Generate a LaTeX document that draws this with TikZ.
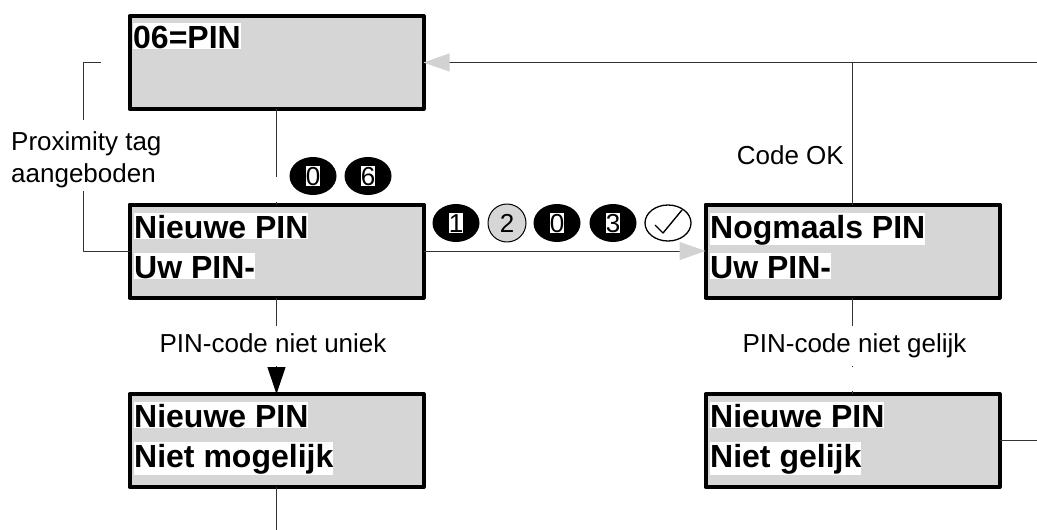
\documentclass[tikz,border=0pt]{standalone}
\usepackage{fontspec}
\setmainfont{Liberation Sans}
\usetikzlibrary{arrows.meta, shapes.geometric}

\begin{document}
\begin{tikzpicture}[x=1pt, y=-1pt, line join=round,
    lcdbox/.style={draw=black, fill=lcdgray, line width=4pt, minimum width=294pt, minimum height=93pt, inner sep=0pt, outer sep=0pt},
    lcdline/.style={fill=white, inner sep=0pt, anchor=north west, font=\fontsize{32}{32}\selectfont\bfseries, text height=25pt, text depth=#1},
    lcdline/.default=1pt,
    flow/.style={draw=black!80, line width=1pt},
    grayhead/.style={flow, -{Triangle[length=26pt, width=18pt, color=arrowgray]}},
    blackhead/.style={flow, -{Triangle[length=27pt, width=18pt, color=black]}},
    note/.style={inner sep=0pt, font=\fontsize{26}{32}\selectfont},
    notegap/.style={note, text height=19pt, text depth=6pt, minimum height=40pt},
    keydark/.style={ellipse, fill=black, minimum width=47pt, minimum height=38pt, inner sep=0pt, label={[keydigit]center:#1}},
    keydigit/.style={fill=white, text=black, inner sep=0pt, font=\fontsize{26}{26}\selectfont, text height=19.5pt, text depth=1pt}]
    \definecolor{lcdgray}{HTML}{D6D6D6}
    \definecolor{arrowgray}{HTML}{D2D2D2}
    \useasboundingbox (0,0) rectangle (1037,530);

    % Displays, left column
    \node[lcdbox] (pinbox) at (276.5,62.5) {};
    \node[lcdbox] (newpin) at (276.5,251) {};
    \node[lcdbox] (notunique) at (276.5,440.5) {};

    % Displays, right column
    \node[lcdbox] (repeatpin) at (852.5,251) {};
    \node[lcdbox] (notequal) at (852.5,440.5) {};

    % Display texts
    \node[lcdline] (pintext) at (133,23) {06=PIN};
    \node[lcdline] (newtexta) at (134,213) {Nieuwe PIN};
    \node[lcdline] (newtextb) at (134,253) {Uw PIN-};
    \node[lcdline] (uniquea) at (134,402) {Nieuwe PIN};
    \node[lcdline=8pt] (uniqueb) at (134,442) {Niet mogelijk};
    \node[lcdline=7pt] (repeata) at (710,213) {Nogmaals PIN};
    \node[lcdline] (repeatb) at (710,253) {Uw PIN-};
    \node[lcdline] (equala) at (710,402) {Nieuwe PIN};
    \node[lcdline=8pt] (equalb) at (710,442) {Niet gelijk};

    % Labels
    \node[note, align=left, anchor=north west, minimum height=71pt] (proxlabel) at (11,124) {Proximity tag\\aangeboden};
    \node[note, anchor=east] (oklabel) at (844,155) {Code OK};
    \node[notegap] (uniquelabel) at (273,346) {PIN-code niet uniek};
    \node[notegap] (equallabel) at (854.5,346) {PIN-code niet gelijk};

    % Keys
    \foreach \x/\d in {313/0, 368/6}
        \node[keydark=\d] (keytop\x) at (\x,176) {};
    \foreach \x/\d in {456/1, 557/0, 613/3}
        \node[keydark=\d] (keyrow\x) at (\x,223) {};
    \node[ellipse, draw=black, fill=lcdgray, line width=1pt, minimum size=38pt, inner sep=0pt, font=\fontsize{26}{26}\selectfont] (keytwo) at (507,223) {2};
    \node[ellipse, draw=black, line width=1.3pt, minimum width=46pt, minimum height=36pt, inner sep=0pt] (keyok) at (668,223) {};
    \draw[line width=1.4pt] ([shift={(-13,2)}]keyok.center) -- ([shift={(-5,10)}]keyok.center) -- ([shift={(14,-13)}]keyok.center);

    % Free ends of the connectors
    \coordinate (rightend) at (1037,62.5);
    \coordinate (rightlow) at (1037,440.5);
    \coordinate (bottomend) at (276.5,530);
    \coordinate (junction) at (852.5,62.5);
    \coordinate (proxlow) at (83,191);
    \coordinate (proxup) at (83,120);
    \coordinate (proxtop) at (101,62);
    \coordinate (keysgap) at (276.5,177);
    \coordinate (equalgap) at (852.5,366);

    % Connectors
    \draw[grayhead] (rightend) -- (pinbox.east);
    \draw[flow] (repeatpin.north) -- (junction);
    \draw[grayhead] (newpin.east) -- (repeatpin.west);
    \draw[flow] (pinbox.south) -- (keysgap);
    \draw[flow] (newpin.north) -- ++(0,-3);
    \draw[flow] (newpin.west) -| (proxlow);
    \draw[flow] (proxup) |- (proxtop);
    \draw[flow] (newpin.south) -- (uniquelabel.north -| newpin.south);
    \draw[blackhead] (uniquelabel.south -| notunique.north) -- (notunique.north);
    \draw[flow] (notunique.south) -- (bottomend);
    \draw[flow] (repeatpin.south) -- (equallabel.north -| repeatpin.south);
    \draw[flow] (equallabel.south -| notequal.north) -- (equalgap);
    \draw[flow] (notequal.north) -- ++(0,-3);
    \draw[flow] (notequal.east) -- (rightlow);
\end{tikzpicture}
\end{document}
